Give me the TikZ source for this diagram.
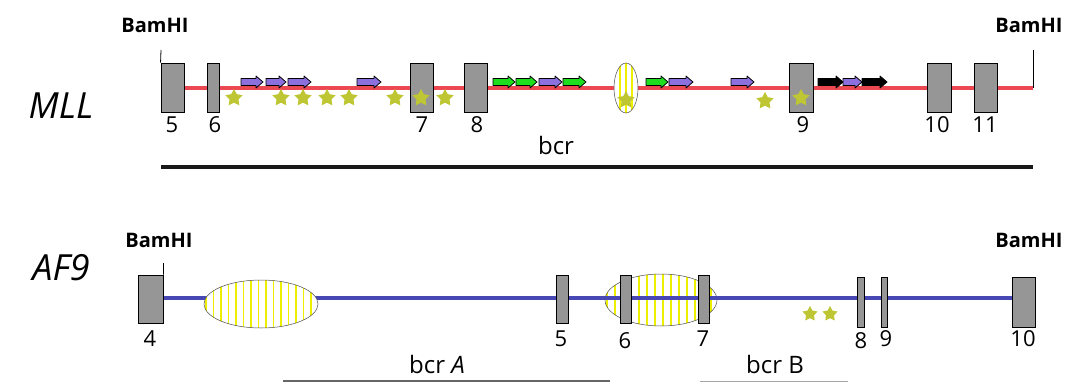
\documentclass[tikz,border=0pt]{standalone}
\usepackage{fontspec}
\setmainfont{Open Sans}
\usetikzlibrary{shapes.geometric}
\definecolor{mllred}{RGB}{235,72,82}
\definecolor{afblue}{RGB}{72,72,180}
\definecolor{exongray}{RGB}{150,150,150}
\definecolor{starc}{RGB}{190,198,52}
\definecolor{arrpurple}{RGB}{140,112,222}
\definecolor{arrgreen}{RGB}{30,222,30}
\definecolor{stripeyel}{RGB}{238,238,0}
\pgfdeclarelayer{bg}
\pgfsetlayers{bg,main}
% repeat feature arrow: from x=#1 to tip x=#2, fill colour #3
\newcommand\featarrow[3]{%
  \filldraw[fill=#3, draw=black, line width=0.8pt, line join=round]
    (#1,78.5) -- (#2-7,78.5) -- (#2-7,76) -- (#2,82) -- (#2-7,88)
    -- (#2-7,85.5) -- (#1,85.5) -- cycle;}
% vertical yellow hatching inside an ellipse node #1 with radii #2, #3
\newcommand\hatchellipse[4]{%
  \begin{scope}
    \clip (#1.center) ellipse [x radius=#2, y radius=#3];
    \foreach \x in {#4}
      \draw[stripeyel, line width=1.6pt] (\x,0) -- (\x,383);
  \end{scope}
  \draw[draw=black!70, line width=0.5pt] (#1.center) ellipse [x radius=#2, y radius=#3];}
\tikzset{
  exon/.style={draw=black, fill=exongray, line width=0.9pt, inner sep=0pt,
               minimum width=#1, minimum height=49pt},
  exon/.default=23pt,
  num/.style={font=\fontsize{22}{22}\selectfont, inner sep=0pt},
  site/.style={font=\bfseries\fontsize{20}{20}\selectfont, inner sep=0pt},
  gene/.style={font=\itshape\fontsize{36}{36}\selectfont, inner sep=0pt},
  region/.style={font=\fontsize{24}{24}\selectfont, inner sep=0pt},
  alu/.style={star, star points=5, star point ratio=1.9, fill=starc,
              inner sep=0pt, minimum size=#1},
  alu/.default=18pt,
  blob/.style={ellipse, fill=white, inner sep=0pt},
  tick/.style={line width=0.8pt, draw=black}
}
\begin{document}
\begin{tikzpicture}[x=1pt, y=-1pt]
\useasboundingbox (0,0) rectangle (1076,383);

% ---------------- MLL ----------------
\node[gene] (mll) at (61,106) {MLL};
\node[site] (bamL1) at (155,25) {BamHI};
\node[site] (bamR1) at (1029,25) {BamHI};

\node[exon] (m5) at (172.5,87.5) {};
\node[exon=12pt] (m6) at (213,87.5) {};
\node[exon] (m7) at (421.5,87.5) {};
\node[exon] (m8) at (475.5,87.5) {};
\node[exon=24pt] (m9) at (801,87.5) {};
\node[exon=24pt] (m10) at (939,87.5) {};
\node[exon] (m11) at (985.5,87.5) {};
\coordinate (mend) at (1033,88);
\coordinate (mendtop) at (1033,50);
\coordinate (mstarttop) at (161,50);

\node[blob, minimum width=24pt, minimum height=50pt] (mell) at (626,88) {};
\hatchellipse{mell}{12}{25}{620,626,632}

\begin{pgfonlayer}{bg}
  \draw[mllred, line width=3.6pt] (m5.east |- mend) -- (mend);
\end{pgfonlayer}
\draw[tick] (mend) -- (mendtop);
\draw[tick] (m5.north west) -- (mstarttop);

% repeat elements
\featarrow{241}{263}{arrpurple}
\featarrow{266}{286}{arrpurple}
\featarrow{288}{311}{arrpurple}
\featarrow{357}{381}{arrpurple}
\featarrow{493}{515}{arrgreen}
\featarrow{516}{537}{arrgreen}
\featarrow{539}{562}{arrpurple}
\featarrow{563}{586}{arrgreen}
\featarrow{646}{668}{arrgreen}
\featarrow{669}{693}{arrpurple}
\featarrow{731}{754}{arrpurple}
\featarrow{818}{843}{black}
\featarrow{843}{862}{arrpurple}
\featarrow{862}{887}{black}

\foreach \i/\x/\y in {1/234/98, 2/281/98, 3/303/98, 4/327/98, 5/349/98,
                      6/395/98, 7/421/98, 8/445/98, 9/626/100, 10/765/101,
                      11/801/98}
  \node[alu] (ms\i) at (\x,\y) {};

\node[num] (l5) at (172,125) {5};
\node[num] (l6) at (215,125) {6};
\node[num] (l7) at (422,125) {7};
\node[num] (l8) at (477,125) {8};
\node[num] (l9) at (803,125) {9};
\node[num] (l10) at (937,125) {10};
\node[num] (l11) at (985,125) {11};

\node[region] (bcr) at (556,145) {bcr};
\coordinate (bcrL) at (161,167);
\coordinate (bcrR) at (1033,167);
\draw[black!90, line width=3.5pt] (bcrL) -- (bcrR);

% ---------------- AF9 ----------------
\node[gene] (af9) at (61,268) {AF9};
\node[site] (bamL2) at (159,240) {BamHI};
\node[site] (bamR2) at (1029,240) {BamHI};

\node[exon=25pt, minimum height=48pt] (a4) at (150.5,299) {};
\node[exon=12pt, minimum height=48pt] (a5) at (562,299) {};
\node[exon=7pt, minimum height=50pt] (a8) at (860.5,302) {};
\node[exon=6pt, minimum height=50pt] (a9) at (884,302) {};
\node[exon=23pt, minimum height=50pt] (a10) at (1023.5,302) {};
\coordinate (a4top) at (163.5,263);

\begin{pgfonlayer}{bg}
  \draw[afblue, line width=4pt] (a4.east |- 0,298) -- (a10.west |- 0,298);
\end{pgfonlayer}

% hatched region upstream of exon 5
\node[blob, minimum width=114pt, minimum height=48pt] (aell1) at (261,304) {};
\hatchellipse{aell1}{57}{24}{206,213.5,...,318}

% hatched region spanning exons 6 and 7, line shows through
\node[blob, minimum width=112pt, minimum height=52pt] (aell2) at (661,300) {};
\hatchellipse{aell2}{56}{26}{607,615,...,717}
\draw[afblue, line width=4pt] (aell2.west |- 0,298) -- (aell2.east |- 0,298);
\node[exon=11pt, minimum height=48pt] (a6) at (625.5,299.5) {};
\node[exon=11pt, minimum height=48pt] (a7) at (703.5,299.5) {};

\draw[tick] (a4.north east) -- (a4top);

\node[alu=16pt] (as1) at (810,314) {};
\node[alu=16pt] (as2) at (830,314) {};

\node[num] (k4) at (150,339) {4};
\node[num] (k5) at (561,339) {5};
\node[num] (k6) at (625,341) {6};
\node[num] (k7) at (703,339) {7};
\node[num] (k8) at (861,341) {8};
\node[num] (k9) at (886,339) {9};
\node[num] (k10) at (1023,339) {10};

\node[region] (bcra) at (437,364) {bcr \textit{A}};
\node[region] (bcrb) at (775,364) {bcr B};
\coordinate (bcraL) at (283,381);
\coordinate (bcraR) at (610,381);
\coordinate (bcrbL) at (700,381.5);
\coordinate (bcrbR) at (848,381.5);
\draw[black!60, line width=1.8pt] (bcraL) -- (bcraR);
\draw[black!35, line width=1.5pt] (bcrbL) -- (bcrbR);
\end{tikzpicture}
\end{document}
